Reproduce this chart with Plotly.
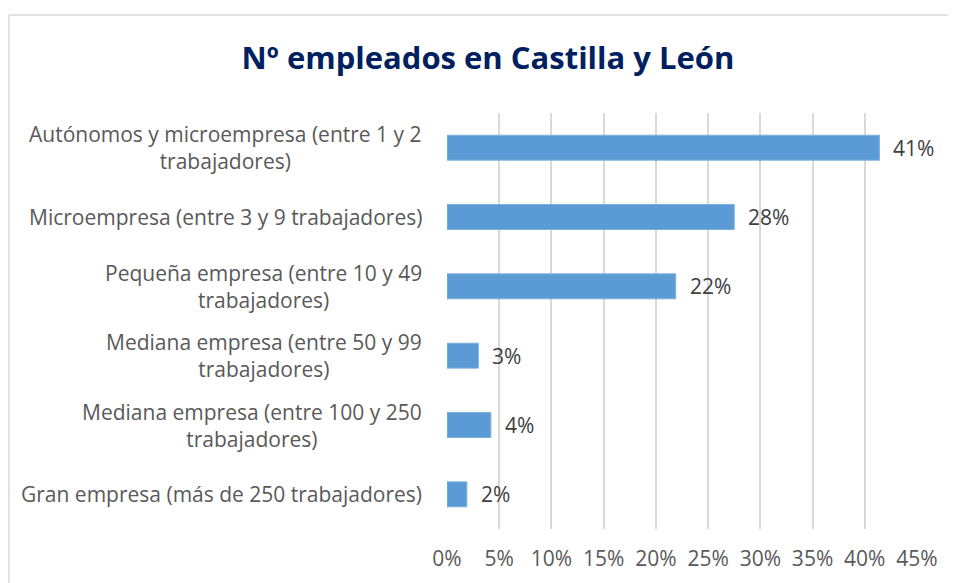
import plotly.graph_objects as go

categories = [
    "Autónomos y microempresa (entre 1 y 2<br>trabajadores)",
    "Microempresa (entre 3 y 9 trabajadores)",
    "Pequeña empresa (entre 10 y 49<br>trabajadores)",
    "Mediana empresa (entre 50 y 99<br>trabajadores)",
    "Mediana empresa (entre 100 y 250<br>trabajadores)",
    "Gran empresa (más de 250 trabajadores)",
]
values = [0.414, 0.275, 0.219, 0.030, 0.042, 0.019]
value_labels = ["41%", "28%", "22%", "3%", "4%", "2%"]
x_ticks = [0, 0.05, 0.10, 0.15, 0.20, 0.25, 0.30, 0.35, 0.40, 0.45]
x_tick_labels = ["0%", "5%", "10%", "15%", "20%", "25%", "30%", "35%", "40%", "45%"]

FONT = "Open Sans"
TEXT_GRAY = "#595959"

# figure is drawn 8px into the page (body margin)
W, H = 948, 575
L, R, T, B = 439, 39, 105, 54
PW, PH = W - L - R, H - T - B

fig = go.Figure()
fig.add_trace(go.Bar(
    x=values, y=categories, orientation="h",
    marker=dict(color="#5B9BD5", line=dict(color="#7EB0DF", width=1)),
    width=0.36, hoverinfo="skip",
))

annotations = []
for cat in categories:
    annotations.append(dict(
        x=0, xref="paper", y=cat, yref="y", xanchor="right", yanchor="middle",
        xshift=-23, text=cat, showarrow=False, align="center",
        font=dict(family=FONT, size=21, color=TEXT_GRAY),
    ))
for cat, v, lab in zip(categories, values, value_labels):
    annotations.append(dict(
        x=v, xref="x", y=cat, yref="y", xanchor="left", yanchor="middle",
        xshift=12, text=lab, showarrow=False,
        font=dict(family=FONT, size=21, color="#404040"),
    ))

border_left = (1 - L) / PW
border_right = (W - L) / PW
border_top = (PH + T - 7) / PH
border_bottom = -(B + 50) / PH

fig.update_layout(
    width=W, height=H,
    margin=dict(l=L, r=R, t=T, b=B, autoexpand=False),
    paper_bgcolor="white", plot_bgcolor="white",
    showlegend=False,
    title=dict(
        text="<b>Nº empleados en Castilla y León</b>",
        x=480 / W, xref="container", xanchor="center",
        y=1 - 50 / H, yref="container", yanchor="middle",
        font=dict(family=FONT, size=31, color="#002060"),
    ),
    xaxis=dict(
        range=[0, 0.45], tickvals=x_ticks, ticktext=x_tick_labels,
        showgrid=True, gridcolor="#D9D9D9", gridwidth=1.5,
        zeroline=False, showline=False, ticks="",
        ticklabelstandoff=15, automargin=False,
        tickfont=dict(family=FONT, size=21, color=TEXT_GRAY),
        fixedrange=True,
    ),
    yaxis=dict(
        autorange="reversed", showticklabels=False, showgrid=False,
        zeroline=False, showline=False, ticks="", fixedrange=True,
        automargin=False,
    ),
    annotations=annotations,
    shapes=[
        dict(type="line", xref="paper", yref="paper",
             x0=border_left, x1=border_right, y0=border_top, y1=border_top,
             line=dict(color="#D9D9D9", width=1.5), layer="below"),
        dict(type="line", xref="paper", yref="paper",
             x0=border_left, x1=border_left, y0=border_bottom, y1=border_top,
             line=dict(color="#D9D9D9", width=1.5), layer="below"),
    ],
)

fig.write_html("out.html")
